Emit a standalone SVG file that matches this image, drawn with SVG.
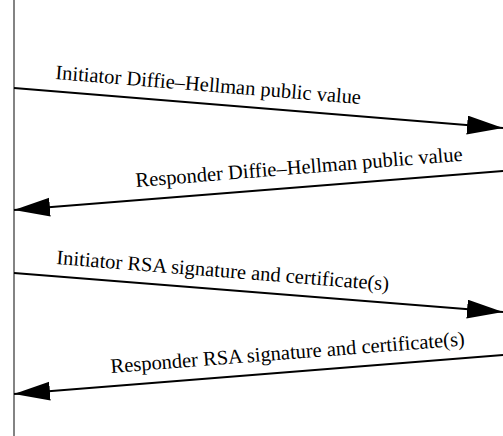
<svg xmlns="http://www.w3.org/2000/svg" width="503" height="436" viewBox="0 0 503 436">
<style>
.msg{stroke:#000;stroke-width:1.8;fill:none;marker-end:url(#ah)}
.lbl{font-family:"Liberation Serif","Times New Roman",serif;font-size:20.5px;fill:#000}
</style>
<defs>
<marker id="ah" markerUnits="userSpaceOnUse" markerWidth="40" markerHeight="22" refX="36" refY="9.5" orient="auto">
<polygon points="0,0 36,9.5 0,19" fill="#000"/>
</marker>
</defs>
<rect width="503" height="436" fill="#fff"/>
<g id="lifeline"><line x1="14" y1="0" x2="14" y2="436" stroke="#5a5a5a" stroke-width="1.5"/></g>
<g id="connectors">
<line class="msg" x1="14" y1="88" x2="503" y2="128"/>
<line class="msg" x1="503" y1="171" x2="14" y2="210"/>
<line class="msg" x1="14" y1="273" x2="503" y2="312"/>
<line class="msg" x1="503" y1="355" x2="14" y2="394"/>
</g>
<g id="labels">
<text class="lbl" transform="translate(55,79) rotate(4.68)">Initiator Diffie–Hellman public value</text>
<text class="lbl" transform="translate(136,187) rotate(-4.6)">Responder Diffie–Hellman public value</text>
<text class="lbl" transform="translate(56,264) rotate(4.56)">Initiator RSA signature and certificate(s)</text>
<text class="lbl" transform="translate(111,373) rotate(-4.45)">Responder RSA signature and certificate(s)</text>
</g>
</svg>
